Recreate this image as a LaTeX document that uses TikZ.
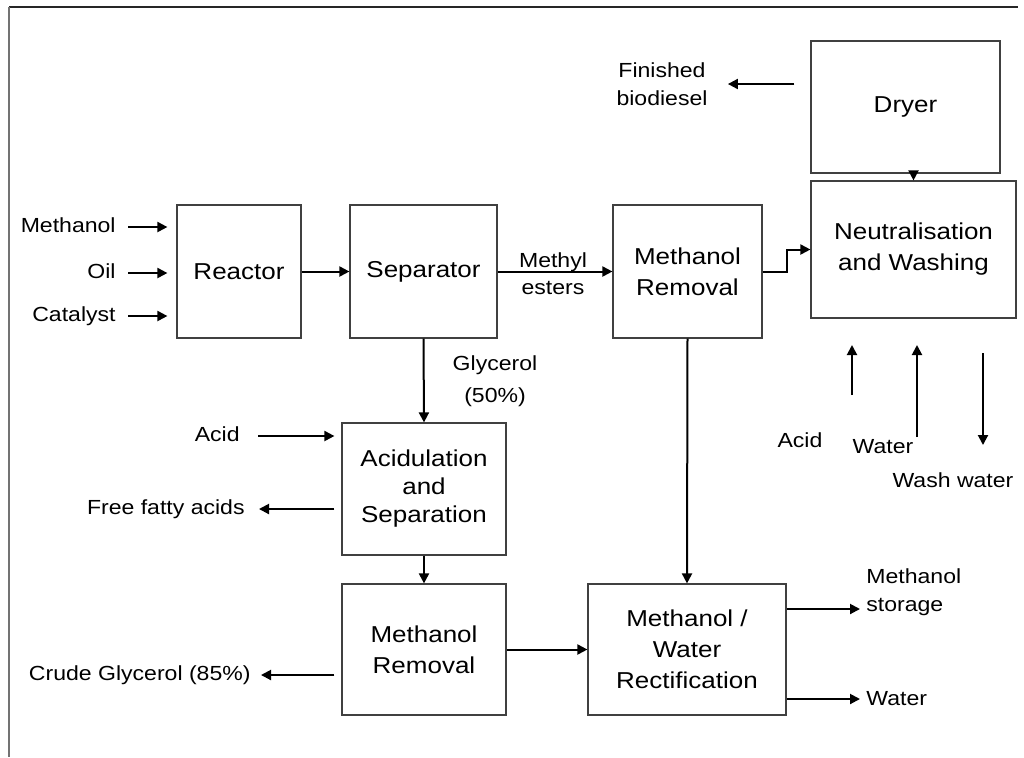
\documentclass[tikz,border=0pt]{standalone}
\usepackage{fontspec}
\setmainfont[FakeStretch=1.13]{Liberation Sans}
\usetikzlibrary{arrows.meta,calc}
\begin{document}
\begin{tikzpicture}[x=0.5pt,y=-0.5pt,
  box/.style={draw=black!75,line width=0.6pt,align=center,inner sep=0pt,
    font=\fontsize{11.5}{15.5}\selectfont},
  lab/.style={align=center,inner sep=0pt,font=\fontsize{10.2}{14}\selectfont},
  arr/.style={line width=1pt,-{Triangle[length=5pt,width=5pt]}}]
\useasboundingbox (0,0) rectangle (1024,757);
% frame
\draw[line width=1pt,black!85] (9,7) -- (1018,7);
\draw[line width=1.2pt,black!55] (9,7) -- (9,757);

% boxes
\node[box,minimum width=62pt,minimum height=66.5pt] (reactor) at (239,271.5) {Reactor};
\node[box,minimum width=73.5pt,minimum height=66.5pt] (separator) at (423.5,271.5) {Separator};
\node[box,minimum width=74.5pt,minimum height=66.5pt] (mrem1) at (687.5,271.5) {Methanol\\Removal};
\node[box,minimum width=102.5pt,minimum height=68.5pt] (neut) at (913.5,249.5) {Neutralisation\\and Washing};
\node[box,minimum width=94.5pt,minimum height=66pt] (dryer) at (905.5,107) {Dryer};
\node[box,minimum width=82pt,minimum height=66pt,font=\fontsize{11.5}{14}\selectfont] (acid) at (424,489) {Acidulation\\and\\Separation};
\node[box,minimum width=82pt,minimum height=65.5pt] (mrem2) at (424,649.5) {Methanol\\Removal};
\node[box,minimum width=99pt,minimum height=65.5pt] (rect) at (687,649.5) {Methanol /\\Water\\Rectification};

% labels
\node[lab,anchor=mid east] (lmeth) at (116,227) {Methanol};
\node[lab,anchor=mid east] (loil) at (116,273) {Oil};
\node[lab,anchor=mid east] (lcat) at (116,316) {Catalyst};
\node[lab,font=\fontsize{10.2}{13.5}\selectfont] (lme) at (553,273.5) {Methyl\\esters};
\node[lab,font=\fontsize{10.2}{16}\selectfont] (lgly) at (495,381) {Glycerol\\(50\%)};
\node[lab,anchor=mid east] (lacid) at (240,436) {Acid};
\node[lab,anchor=mid east] (lffa) at (245,509) {Free fatty acids};
\node[lab,anchor=mid east] (lcrude) at (251,675) {Crude Glycerol (85\%)};
\node[lab] (lfin) at (662,84) {Finished\\biodiesel};
\node[lab,align=left,anchor=west] (lms) at (866,592) {Methanol\\storage};
\node[lab,anchor=west] (lwat) at (866,699) {Water};
\node[lab] (lnacid) at (800,440) {Acid};
\node[lab] (lnwat) at (883,447) {Water};
\node[lab] (lwash) at (953,480) {Wash water};

% free-end coordinates
\coordinate (a1s) at (852,395); \coordinate (a1e) at (852,345);
\coordinate (w1s) at (917,437); \coordinate (w1e) at (917,345);
\coordinate (ww1s) at (983,353); \coordinate (ww1e) at (983,445);

% connectors
\draw[arr,shorten <=6pt,shorten >=4.5pt] (lmeth.mid east) -- (lmeth.mid east -| reactor.west);
\draw[arr,shorten <=6pt,shorten >=4.5pt] (loil.mid east) -- (loil.mid east -| reactor.west);
\draw[arr,shorten <=6pt,shorten >=4.5pt] (lcat.mid east) -- (lcat.mid east -| reactor.west);
\draw[arr] (reactor.east) -- (separator.west);
\draw[arr] (separator.east) -- (mrem1.west);
\draw[arr] (mrem1.east) -- ++(24,0) |- (neut.west);
\draw[arr] (dryer.south -| neut.north) -- (neut.north);
\draw[arr,shorten <=8pt,shorten >=10pt] (dryer.west |- lfin.east) -- (lfin.east);
\draw[arr] (separator.south) -- (acid.north);
\draw[arr,shorten <=9pt,shorten >=3.5pt] (lacid.mid east) -- (lacid.mid east -| acid.west);
\draw[arr,shorten <=3.5pt,shorten >=7pt] (lffa.mid east -| acid.west) -- (lffa.mid east);
\draw[arr] (acid.south) -- (mrem2.north);
\draw[arr,shorten <=3.5pt,shorten >=5pt] (lcrude.mid east -| mrem2.west) -- (lcrude.mid east);
\draw[arr] (mrem2.east) -- (rect.west);
\draw[arr] (mrem1.south) -- (rect.north);
\draw[arr,shorten >=3pt] ([yshift=20.25pt]rect.east) -- ([yshift=20.25pt]rect.east -| lms.west);
\draw[arr,shorten >=3pt] (lwat.west -| rect.east) -- (lwat.west);
\draw[arr] (a1s) -- (a1e);
\draw[arr] (w1s) -- (w1e);
\draw[arr] (ww1s) -- (ww1e);
\end{tikzpicture}
\end{document}
